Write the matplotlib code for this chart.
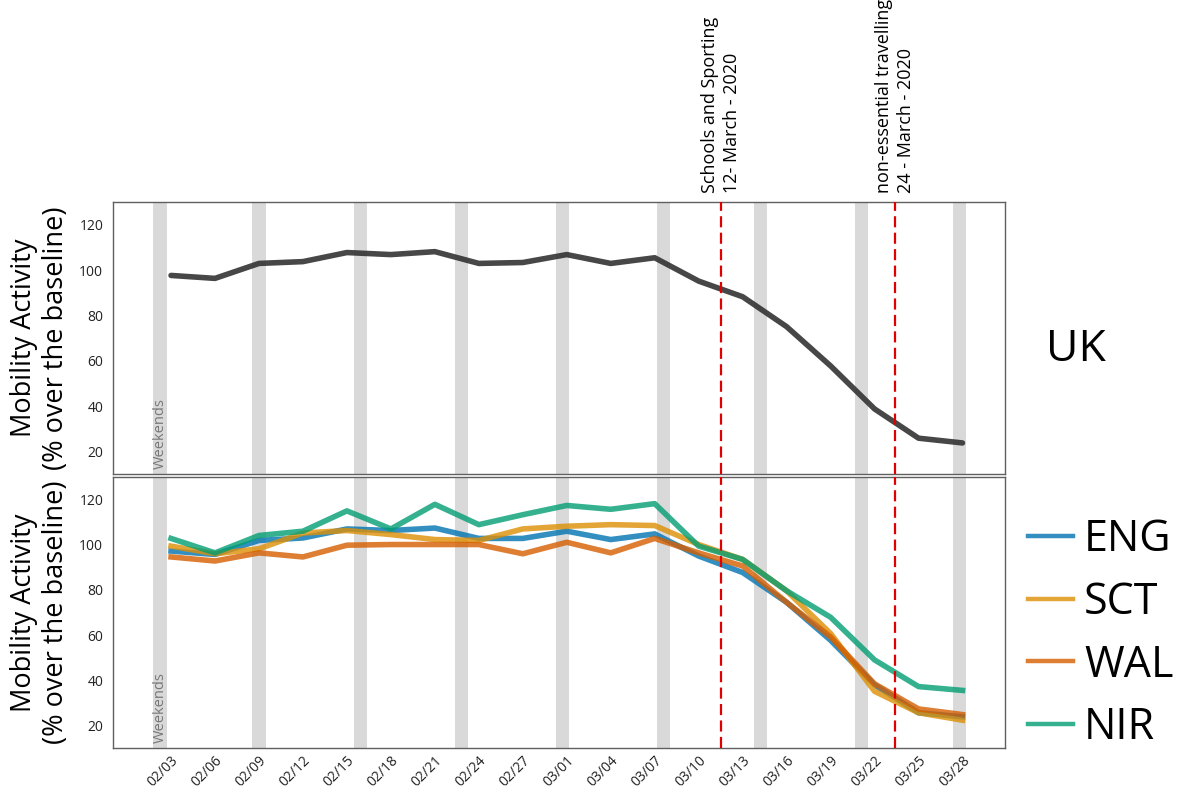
import matplotlib
matplotlib.use('Agg')
import matplotlib.pyplot as plt
from matplotlib.lines import Line2D

plt.rcParams['font.family'] = ['Open Sans', 'DejaVu Sans']

# day offset from 02/03 for every sample (one every three days)
days = [0, 3, 6, 9, 12, 15, 18, 21, 24, 27, 30, 33, 36, 39, 42, 45, 48, 51, 54]
tick_labels = ['02/03', '02/06', '02/09', '02/12', '02/15', '02/18', '02/21', '02/24', '02/27',
               '03/01', '03/04', '03/07', '03/10', '03/13', '03/16', '03/19', '03/22', '03/25', '03/28']

uk = [97.6, 96.3, 102.9, 103.7, 107.7, 106.8, 108.1, 102.9, 103.3, 106.8,
      102.9, 105.4, 95.1, 88.2, 75.0, 57.7, 38.7, 25.8, 23.7]
eng = [97.2, 95.7, 101.9, 103.0, 107.0, 106.3, 107.4, 102.8, 102.8, 106.0,
       102.3, 104.8, 95.0, 87.7, 74.5, 57.7, 38.0, 25.6, 23.8]
sct = [99.4, 96.0, 98.2, 105.2, 106.3, 104.5, 102.3, 101.9, 107.0, 108.2,
       108.9, 108.5, 100.1, 93.5, 79.6, 60.7, 35.1, 25.6, 22.3]
wal = [94.6, 92.8, 96.4, 94.6, 99.8, 100.1, 100.1, 100.1, 96.0, 101.1,
       96.4, 102.8, 96.4, 90.6, 74.5, 59.2, 38.4, 27.3, 24.8]
nir = [102.8, 96.4, 104.1, 106.0, 115.0, 107.0, 117.9, 108.9, 113.3, 117.4,
       115.7, 118.2, 99.4, 93.5, 79.6, 67.9, 49.0, 37.2, 35.5]

# weekend markers (day offsets as they sit on the chart)
weekends = [-0.75, 6.0, 12.9, 19.8, 26.7, 33.6, 40.2, 47.1, 53.8]
# policy dates
events = [37.5, 49.4]
event_labels = ['Schools and Sporting\n12- March - 2020',
                'non-essential travelling\n24 - March - 2020']

regions = ['ENG', 'SCT', 'WAL', 'NIR']
series = [eng, sct, wal, nir]
colours = ['#0173b2', '#de8f05', '#d55e00', '#029e73']

fig = plt.figure(figsize=(11.8, 7.9), dpi=100)
ax1 = fig.add_axes([113 / 1180, 0.4, 892 / 1180, 272 / 790])
ax2 = fig.add_axes([113 / 1180, 1 - 748 / 790, 892 / 1180, 271 / 790])

for ax in (ax1, ax2):
    for w in weekends:
        ax.axvspan(w - 0.45, w + 0.45, color='#d9d9d9', lw=0, zorder=0)
    for e in events:
        ax.axvline(e, color='#e00000', lw=1.6, ls=(0, (5, 2.4)), zorder=5)
    ax.text(weekends[0], 0.02, 'Weekends', rotation=90, ha='center', va='bottom',
            color='#777777', fontsize=10.5, transform=ax.get_xaxis_transform())
    ax.set_xlim(-3.96, 56.9)
    ax.set_ylim(10, 130)
    ax.set_yticks([20, 40, 60, 80, 100, 120])
    ax.tick_params(axis='y', length=0, labelsize=10, colors='#222222', pad=7)
    for s in ax.spines.values():
        s.set_color('#606060')
        s.set_linewidth(1.0)
    ax.set_ylabel('Mobility Activity\n(% over the baseline)', fontsize=19.5, labelpad=7,
                  linespacing=1.15)

ax1.plot(days, uk, color='#333333', alpha=0.9, lw=4, solid_capstyle='round', zorder=3)
ax1.set_xticks([])

for vals, c in zip(series, colours):
    ax2.plot(days, vals, color=c, alpha=0.8, lw=4, zorder=3)
ax2.set_xticks(days)
ax2.set_xticklabels(tick_labels, rotation=45, ha='right', rotation_mode='anchor', fontsize=10)
ax2.tick_params(axis='x', length=0, colors='#222222', pad=4)

for e, lab in zip(events, event_labels):
    ax1.text(e, 1.033, lab, rotation=90, ha='center', va='bottom', multialignment='left',
             fontsize=13, transform=ax1.get_xaxis_transform(), linespacing=1.3)

fig.text(1046 / 1180, 1 - 350 / 790, 'UK', fontsize=32, va='center', ha='left')

handles = [Line2D([], [], color=c, alpha=0.8, lw=3.2) for c in colours]
fig.legend(handles, regions, loc='center left', bbox_to_anchor=(1028 / 1180, 1 - 634 / 790),
           frameon=False, fontsize=31, handlelength=1.05, handletextpad=0.25,
           labelspacing=0.42, borderpad=0, borderaxespad=0)

fig.savefig('out.png', dpi=100)
